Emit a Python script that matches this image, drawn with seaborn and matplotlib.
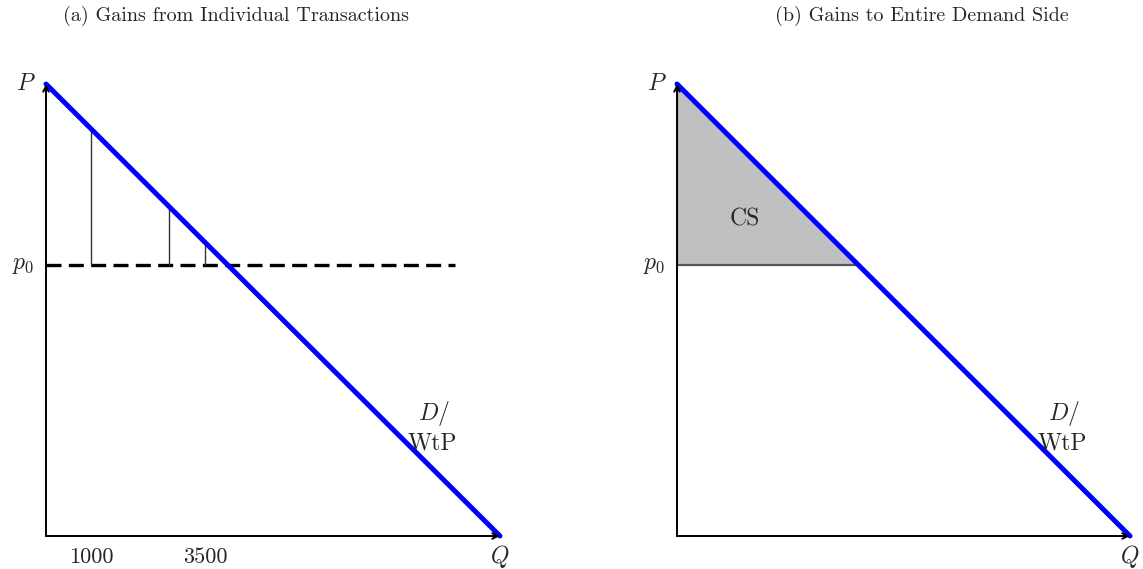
import numpy as np
import pandas as pd
import seaborn as sns
import matplotlib.pyplot as plt

# demand curve and market price
demand_q = [0, 10000]
demand_p = [10, 0]
p0 = 6
q_cs_end = 4000           # where demand meets p0
q_dash_end = 9000         # end of dashed price line

# individual transactions (panel a)
trans_q = [1000, 2700, 3500]
trans_wtp = [9.0, 7.3, 6.5]
tick_q = [1000, 3500]
tick_labels = ['1000', '3500']

titles = ['(a) Gains from Individual Transactions', '(b) Gains to Entire Demand Side']

sns.set_style('white')
plt.rcParams['font.family'] = ['serif']
plt.rcParams['font.serif'] = ['cmr10', 'DejaVu Serif']
plt.rcParams['mathtext.fontset'] = 'cm'
plt.rcParams['axes.unicode_minus'] = False

fig = plt.figure(figsize=(11.43, 5.69), dpi=100)
ax1 = fig.add_axes([46 / 1143, 33 / 569, 454 / 1143, 452 / 569])
ax2 = fig.add_axes([677 / 1143, 33 / 569, 453 / 1143, 452 / 569])

df = pd.DataFrame({'Q': demand_q, 'P': demand_p})

for ax in (ax1, ax2):
    ax.set_xlim(0, demand_q[1])
    ax.set_ylim(0, demand_p[0])
    for s in ax.spines.values():
        s.set_visible(False)
    ax.set_yticks([])
    # axis arrows
    ax.annotate('', xy=(demand_q[1], 0), xytext=(0, 0), annotation_clip=False,
                arrowprops=dict(arrowstyle='->', lw=1.4, color='black', shrinkA=0, shrinkB=0))
    ax.annotate('', xy=(0, demand_p[0]), xytext=(0, 0), annotation_clip=False,
                arrowprops=dict(arrowstyle='->', lw=1.4, color='black', shrinkA=0, shrinkB=0))
    ax.text(-0.045, 1.0, '$P$', transform=ax.transAxes, fontsize=17, ha='center', va='center')
    ax.text(-0.05, p0 / 10, '$p_0$', transform=ax.transAxes, fontsize=17, ha='center', va='center')
    ax.text(1.0, -0.045, '$Q$', transform=ax.transAxes, fontsize=17, ha='center', va='center')
    ax.text(0.855, 0.27, '$D/$', transform=ax.transAxes, fontsize=17, ha='center', va='center')
    ax.text(0.85, 0.205, 'WtP', transform=ax.transAxes, fontsize=17, ha='center', va='center')

# panel a
ax1.hlines(p0, 0, q_dash_end, colors='black', linestyles=(0, (4.5, 2.2)), lw=2.4)
ax1.vlines(trans_q, p0, trans_wtp, colors='#333333', lw=1.0)
sns.lineplot(data=df, x='Q', y='P', ax=ax1, color='#0000ff', lw=3.6, clip_on=False)
ax1.set_xticks(tick_q)
ax1.set_xticklabels(tick_labels, fontsize=16)
ax1.tick_params(axis='x', length=0, pad=8)

# panel b
ax2.fill_between([0, q_cs_end], [demand_p[0], p0], [p0, p0], color='#c0c0c0', lw=0)
ax2.plot([0, q_cs_end], [p0, p0], color='#555555', lw=1.6)
ax2.plot([0, 0], [p0, demand_p[0]], color='#555555', lw=1.6)
sns.lineplot(data=df, x='Q', y='P', ax=ax2, color='#0000ff', lw=3.6, clip_on=False)
ax2.text(0.15, 0.7, 'CS', transform=ax2.transAxes, fontsize=17, ha='center', va='center')
ax2.set_xticks([])

for ax in (ax1, ax2):
    ax.set_xlabel('')
    ax.set_ylabel('')

fig.text(236 / 1143, 1 - 16 / 569, titles[0], fontsize=14.5, ha='center', va='center')
fig.text(922 / 1143, 1 - 16 / 569, titles[1], fontsize=14.5, ha='center', va='center')

fig.savefig('out.png', dpi=100)
